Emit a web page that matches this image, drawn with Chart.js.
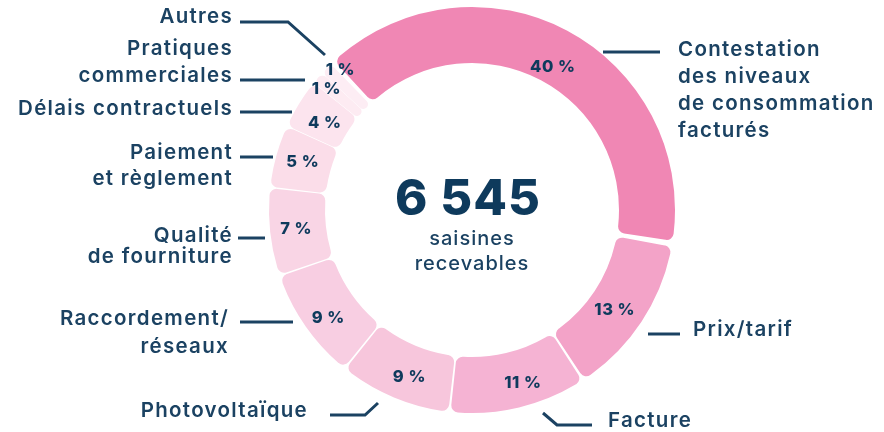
<!DOCTYPE html>
<html>
<head>
<meta charset="utf-8">
<script src="https://cdn.jsdelivr.net/npm/chart.js@4.4.1/dist/chart.umd.min.js"></script>
<style>
  html, body { margin: 0; padding: 0; background: #fff; }
  #wrap { width: 884px; height: 432px; position: relative; }
</style>
</head>
<body>
<div id="wrap"><canvas id="chart" width="884" height="432"></canvas></div>
<script>
// --- data ---
const categories = [
    'Contestation des niveaux de consommation facturés',
    'Prix/tarif',
    'Facture',
    'Photovoltaïque',
    'Raccordement/réseaux',
    'Qualité de fourniture',
    'Paiement et règlement',
    'Délais contractuels',
    'Pratiques commerciales',
    'Autres'
];
const shares = [40, 13, 11, 9, 9, 7, 5, 4, 1, 1];
const totalValue = '6 545';
const totalCaption = ['saisines', 'recevables'];
const labelLines = [
    ['Contestation', 'des niveaux', 'de consommation', 'facturés'],
    ['Prix/tarif'],
    ['Facture'],
    ['Photovoltaïque'],
    ['Raccordement/', 'réseaux'],
    ['Qualité', 'de fourniture'],
    ['Paiement', 'et règlement'],
    ['Délais contractuels'],
    ['Pratiques', 'commerciales'],
    ['Autres']
];

// --- styling ---
const sliceColors = ['#f087b4', '#f3a3c8', '#f5b3d3', '#f7c6dc', '#f8cee2',
                     '#f9d5e5', '#fbdde9', '#fce4ee', '#fdebf2', '#fdedf4'];
const NAVY = '#1b4262';
const DARK = '#0e3a5c';
const FONT = 'Inter, "Open Sans", sans-serif';

// callout placement: text anchor (x, first baseline, line height, align) and leader path
const callouts = [
    { x: 678, y: 56, lh: 27, align: 'left', path: [[603, 52], [660, 52]] },
    { x: 693, y: 336, lh: 27, align: 'left', path: [[648, 334], [680, 334]] },
    { x: 608, y: 427, lh: 27, align: 'left', path: [[543, 413], [557, 425], [592, 425]] },
    { x: 308, y: 417, lh: 27, align: 'right', path: [[330, 415], [365, 415], [378, 403]] },
    { x: 229, y: 325, lh: 28, align: 'right', path: [[240, 322], [293, 322]] },
    { x: 233, y: 242, lh: 21, align: 'right', path: [[238, 238], [265, 238]] },
    { x: 233, y: 159, lh: 26, align: 'right', path: [[240, 157], [273, 157]] },
    { x: 233, y: 115, lh: 27, align: 'right', path: [[240, 112], [292, 112]] },
    { x: 233, y: 55, lh: 27, align: 'right', path: [[240, 80], [305, 80]] },
    { x: 233, y: 23, lh: 27, align: 'right', path: [[240, 22], [288, 22], [325, 55]] }
];
// nudges for the percentage labels (degrees, pixels outward)
const pctNudge = [
    [1.5, -8], [1.5, 2], [-3, 8], [-2, 6], [-2, 8],
    [0, 5], [0.5, 4], [-1, -1], [-1, 17], [2.5, 20]
];

const overlayPlugin = {
    id: 'overlay',
    afterDatasetsDraw(chart) {
        const ctx = chart.ctx;
        const meta = chart.getDatasetMeta(0);
        const arc0 = meta.data[0];
        const cx = arc0.x, cy = arc0.y;

        ctx.save();
        // centre text
        ctx.fillStyle = DARK;
        ctx.textAlign = 'center';
        ctx.textBaseline = 'alphabetic';
        ctx.letterSpacing = '1px';
        ctx.font = '800 49px ' + FONT;
        ctx.fillText(totalValue, cx - 4, cy + 5);
        ctx.fillStyle = NAVY;
        ctx.font = '500 20px ' + FONT;
        totalCaption.forEach((t, i) => ctx.fillText(t, cx, cy + 35 + i * 25));

        // percentage labels
        ctx.letterSpacing = '0.5px';
        ctx.font = '800 16.5px ' + FONT;
        ctx.fillStyle = DARK;
        ctx.textBaseline = 'middle';
        meta.data.forEach((arc, i) => {
            const p = arc.getProps(['startAngle', 'endAngle', 'innerRadius', 'outerRadius', 'x', 'y'], true);
            const a = (p.startAngle + p.endAngle) / 2 + pctNudge[i][0] * Math.PI / 180;
            const r = (p.innerRadius + p.outerRadius) / 2 + pctNudge[i][1];
            ctx.fillText(shares[i] + ' %', p.x + Math.cos(a) * r, p.y + Math.sin(a) * r);
        });

        // callouts
        ctx.strokeStyle = NAVY;
        ctx.lineWidth = 3;
        ctx.lineJoin = 'miter';
        ctx.textBaseline = 'alphabetic';
        ctx.letterSpacing = '1.3px';
        ctx.font = '600 20.5px ' + FONT;
        ctx.fillStyle = NAVY;
        callouts.forEach((c, i) => {
            ctx.beginPath();
            c.path.forEach((pt, k) => k ? ctx.lineTo(pt[0], pt[1]) : ctx.moveTo(pt[0], pt[1]));
            ctx.stroke();
            ctx.textAlign = c.align;
            labelLines[i].forEach((t, k) => ctx.fillText(t, c.x, c.y + k * c.lh));
        });
        ctx.restore();
    }
};

new Chart(document.getElementById('chart'), {
    type: 'doughnut',
    data: {
        labels: categories,
        datasets: [{
            data: shares,
            backgroundColor: sliceColors,
            borderWidth: 0,
            borderRadius: 7,
            spacing: 6
        }]
    },
    options: {
        responsive: false,
        animation: false,
        rotation: -44,
        cutout: '72%',
        layout: { padding: { left: 269, right: 209, top: 7, bottom: 19 } },
        plugins: {
            legend: { display: false },
            tooltip: { enabled: false }
        }
    },
    plugins: [overlayPlugin]
});
</script>
</body>
</html>
